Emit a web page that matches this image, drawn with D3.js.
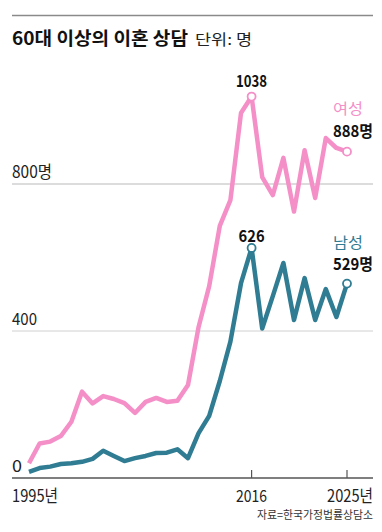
<!DOCTYPE html>
<html><head><meta charset="utf-8">
<script src="https://cdn.jsdelivr.net/npm/d3@7"></script>
<style>
html,body{margin:0;padding:0;background:#fff;}
svg{display:block;}
text{font-family:"Noto Sans CJK KR","Noto Sans",sans-serif;}
</style></head>
<body>
<script>
const years = d3.range(1995, 2026);
const female = [40,94,99,114,153,235,203,223,215,204,177,207,218,207,210,253,411,522,686,756,993,1038,819,770,871,725,892,762,925,898,888];
const male = [17,27,31,38,40,44,52,74,60,46,54,60,68,69,78,54,122,169,264,371,530,626,407,495,585,430,544,430,514,438,529];
const yTicks = [0, 400, 800];
const yTickLabels = ["0", "400", "800명"];
const xTicks = [1995, 2016, 2025];
const xTickLabels = ["1995년", "2016", "2025년"];
const title = "60대 이상의 이혼 상담";
const unit = "단위: 명";
const source = "자료=한국가정법률상담소";
const seriesNames = ["여성", "남성"];

const W = 382, H = 532;
const pink = "#f48fc8", teal = "#2f7c93";
const svg = d3.select("body").append("svg").attr("width", W).attr("height", H);

const x = d3.scaleLinear().domain([1995, 2025]).range([29, 347]);
const y = d3.scaleLinear().domain([0, 800]).range([478, 184]);
const L = 12, R = 373;

// top rule
svg.append("line").attr("x1", L).attr("x2", R).attr("y1", 15.5).attr("y2", 15.5)
  .attr("stroke", "#8a8a8a").attr("stroke-width", 1.5);

// title
svg.append("text").attr("x", L).attr("y", 45).text(title)
  .attr("font-size", 18).attr("font-weight", 700).attr("fill", "#111")
  .attr("textLength", 176).attr("lengthAdjust", "spacingAndGlyphs");
svg.append("text").attr("x", 195).attr("y", 45).text(unit).attr("font-size", 15).attr("fill", "#222")
  .attr("textLength", 57).attr("lengthAdjust", "spacingAndGlyphs");

// gridlines
yTicks.filter(d => d > 0).forEach(d => {
  svg.append("line").attr("x1", L).attr("x2", R).attr("y1", y(d)).attr("y2", y(d))
    .attr("stroke", d === 800 ? "#dcdcdc" : "#d0d0d0").attr("stroke-width", d === 800 ? 2 : 1);
});
// y labels
const yLabW = {0: 10, 400: 25, 800: 40};
yTicks.forEach((d, i) => {
  svg.append("text").attr("x", L).attr("y", y(d) - 6).text(yTickLabels[i])
    .attr("font-size", 17).attr("fill", "#222")
    .attr("textLength", yLabW[d]).attr("lengthAdjust", "spacingAndGlyphs");
});

// axis
svg.append("line").attr("x1", L).attr("x2", R).attr("y1", y(0)).attr("y2", y(0))
  .attr("stroke", "#555").attr("stroke-width", 1.5);
xTicks.slice(1).forEach(d => {
  svg.append("line").attr("x1", x(d)).attr("x2", x(d)).attr("y1", y(0)).attr("y2", y(0) - 8)
    .attr("stroke", "#555").attr("stroke-width", 1.2);
});
// x labels
svg.append("text").attr("x", L).attr("y", 502).text(xTickLabels[0]).attr("font-size", 17).attr("fill", "#222")
  .attr("textLength", 46).attr("lengthAdjust", "spacingAndGlyphs");
svg.append("text").attr("x", x(2016)).attr("y", 502).attr("text-anchor", "middle").text(xTickLabels[1])
  .attr("font-size", 17).attr("fill", "#222").attr("textLength", 31).attr("lengthAdjust", "spacingAndGlyphs");
svg.append("text").attr("x", R).attr("y", 502).attr("text-anchor", "end").text(xTickLabels[2])
  .attr("font-size", 17).attr("fill", "#222")
  .attr("textLength", 46).attr("lengthAdjust", "spacingAndGlyphs");

// source
svg.append("text").attr("x", R).attr("y", 519).attr("text-anchor", "end").text(source)
  .attr("font-size", 11).attr("fill", "#333")
  .attr("textLength", 116).attr("lengthAdjust", "spacingAndGlyphs");

// lines
const line = d3.line().x((d, i) => x(years[i])).y(d => y(d));
[[female, pink], [male, teal]].forEach(([data, c]) => {
  svg.append("path").attr("d", line(data)).attr("fill", "none").attr("stroke", c)
    .attr("stroke-width", 4.5).attr("stroke-linejoin", "round").attr("stroke-linecap", "butt");
  [2016, 2025].forEach(yr => {
    const i = years.indexOf(yr);
    svg.append("circle").attr("cx", x(yr)).attr("cy", y(data[i])).attr("r", 4)
      .attr("fill", "#fff").attr("stroke", c).attr("stroke-width", 1.8);
  });
});

// annotations
const iPeak = years.indexOf(2016), iLast = years.indexOf(2025);
svg.append("text").attr("x", x(2016)).attr("y", y(female[iPeak]) - 10).attr("text-anchor", "middle")
  .text(female[iPeak]).attr("font-size", 16).attr("font-weight", 700).attr("fill", "#111")
  .attr("textLength", 31).attr("lengthAdjust", "spacingAndGlyphs");
svg.append("text").attr("x", x(2016)).attr("y", y(male[iPeak]) - 6).attr("text-anchor", "middle")
  .text(male[iPeak]).attr("font-size", 16).attr("font-weight", 700).attr("fill", "#111")
  .attr("textLength", 26).attr("lengthAdjust", "spacingAndGlyphs");

svg.append("text").attr("x", 333).attr("y", 114).text(seriesNames[0]).attr("font-size", 15).attr("fill", pink)
  .attr("textLength", 30).attr("lengthAdjust", "spacingAndGlyphs");
svg.append("text").attr("x", 333).attr("y", y(female[iLast]) - 15).text(female[iLast] + "명")
  .attr("font-size", 16).attr("font-weight", 700).attr("fill", "#111")
  .attr("textLength", 40).attr("lengthAdjust", "spacingAndGlyphs");
svg.append("text").attr("x", 333).attr("y", 248).text(seriesNames[1]).attr("font-size", 15).attr("fill", teal)
  .attr("textLength", 30).attr("lengthAdjust", "spacingAndGlyphs");
svg.append("text").attr("x", 333).attr("y", y(male[iLast]) - 14).text(male[iLast] + "명")
  .attr("font-size", 16).attr("font-weight", 700).attr("fill", "#111")
  .attr("textLength", 40).attr("lengthAdjust", "spacingAndGlyphs");
</script>
</body></html>
